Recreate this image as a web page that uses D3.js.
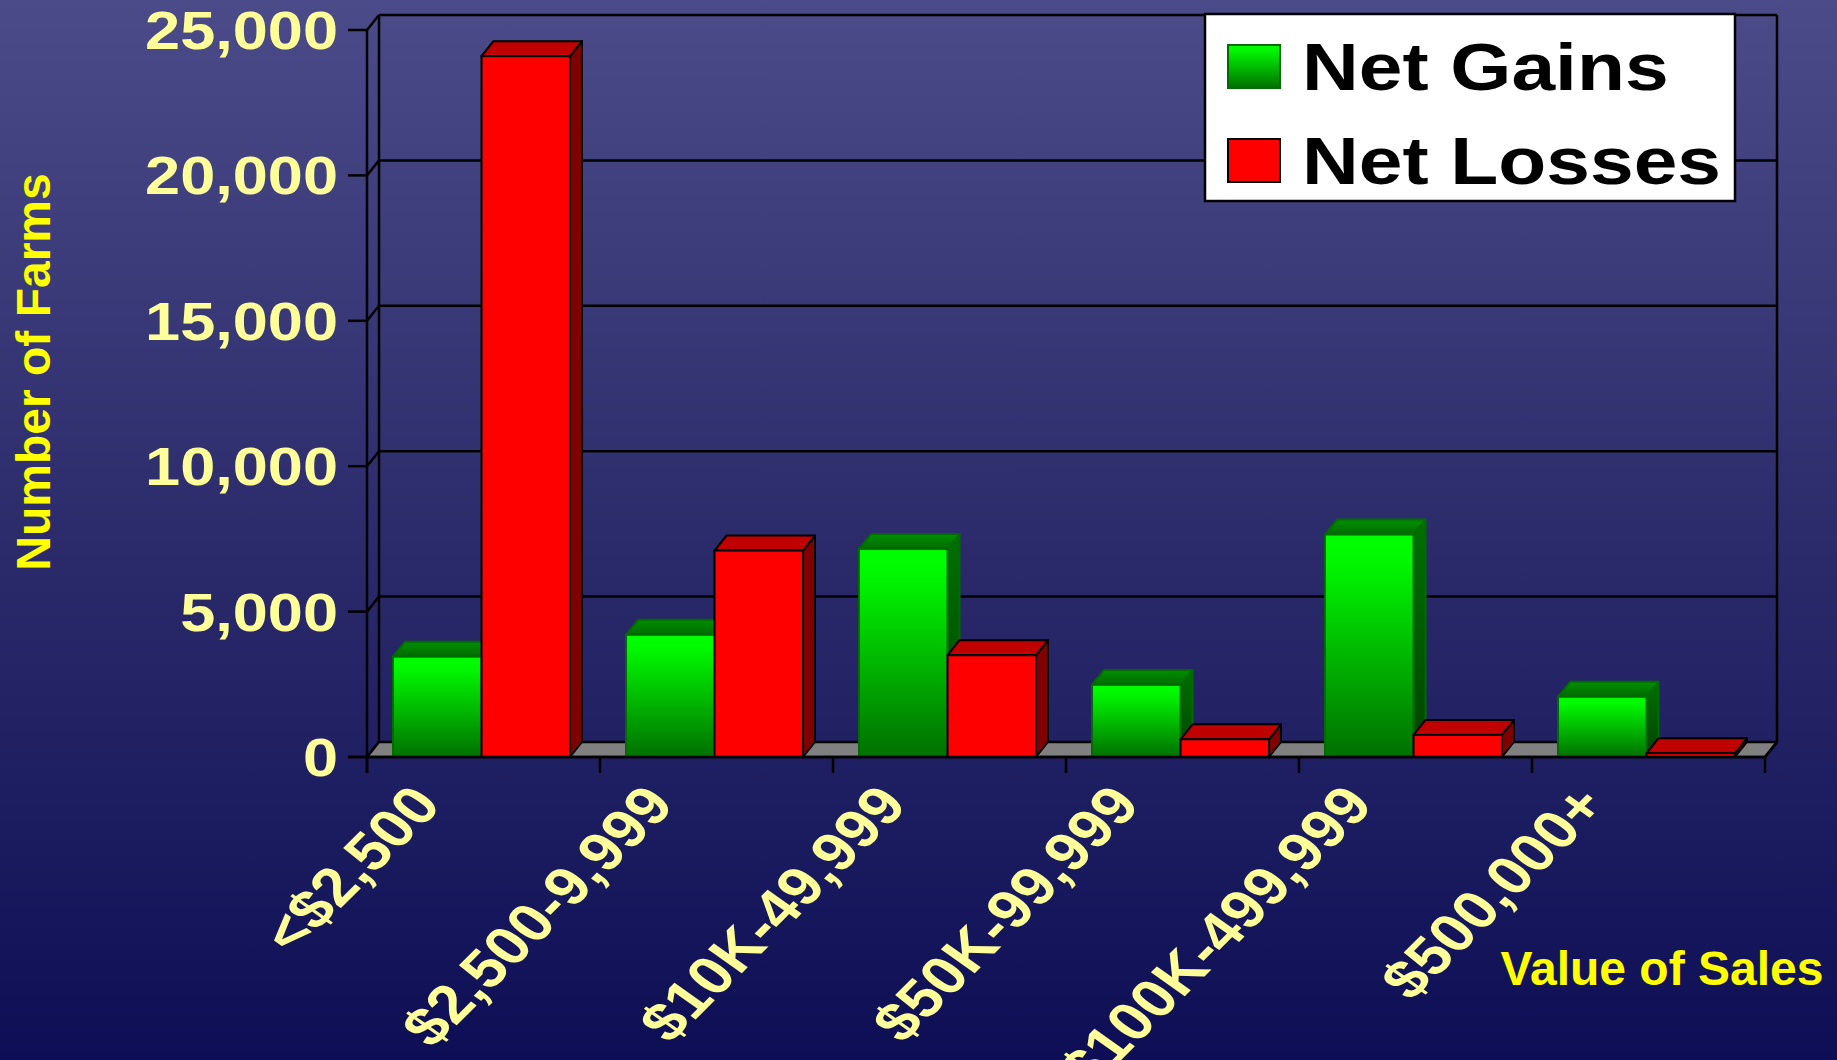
<!DOCTYPE html>
<html><head><meta charset="utf-8">
<script src="https://cdn.jsdelivr.net/npm/d3@7"></script>
<style>html,body{margin:0;padding:0;overflow:hidden;background:#0e0e56}</style>
</head><body><svg id="c" width="1837" height="1060"></svg>
<script>
const categories = ["<$2,500", "$2,500-9,999", "$10K-49,999", "$50K-99,999", "$100K-499,999", "$500,000+"];
const netGains = [3450, 4200, 7150, 2480, 7650, 2070];
const netLosses = [24100, 7100, 3500, 610, 760, 130];
const seriesNames = ["Net Gains", "Net Losses"];
const yTicks = [0, 5000, 10000, 15000, 20000, 25000];
const yTitle = "Number of Farms";
const xTitle = "Value of Sales";

const W = 1837, H = 1060;
const FONT = "'Liberation Sans', Arial, Helvetica, sans-serif";
const SX = 1.19; // horizontal stretch of the original slide text
const svg = d3.select("#c");
const defs = svg.append("defs");

function vgrad(id, stops) {
  const g = defs.append("linearGradient").attr("id", id)
    .attr("x1", 0).attr("y1", 0).attr("x2", 0).attr("y2", 1);
  stops.forEach(s => g.append("stop").attr("offset", s[0]).attr("stop-color", s[1]));
}
vgrad("bg", [[0, "#4b4b89"], [0.5, "#2c2c6c"], [1, "#0e0e56"]]);
vgrad("gFront", [[0, "#00ff00"], [0.12, "#00f800"], [1, "#007000"]]);
vgrad("gSide", [[0, "#007000"], [1, "#004400"]]);
vgrad("gTop", [[0, "#009000"], [1, "#006a00"]]);

svg.append("rect").attr("width", W).attr("height", H).attr("fill", "url(#bg)");

const x0 = 367, x1 = 1765, yZero = 757, yTop = 30;
const DX = 12, DY = -15;
const x = d3.scaleBand().domain(categories).range([x0, x1]);
const y = d3.scaleLinear().domain([0, 25000]).range([yZero, yTop]);
const xs = d3.scaleBand().domain(seriesNames).range([26, 26 + 177]);
const color = {
  "Net Gains": {front: "url(#gFront)", top: "url(#gTop)", side: "url(#gSide)", stroke: "#006c00"},
  "Net Losses": {front: "#ff0000", top: "#c00000", side: "#800000", stroke: "#000000"}
};
const lw = 2.5;

// back wall gridlines
const g = svg.append("g");
yTicks.filter(t => t > 0).forEach(t => {
  g.append("line").attr("x1", x0 + DX).attr("x2", x1 + DX)
    .attr("y1", y(t) + DY).attr("y2", y(t) + DY).attr("stroke", "#000").attr("stroke-width", lw);
});
// side wall diagonals + ticks
yTicks.forEach(t => {
  g.append("line").attr("x1", x0).attr("y1", y(t)).attr("x2", x0 + DX).attr("y2", y(t) + DY)
    .attr("stroke", "#000").attr("stroke-width", lw);
  g.append("line").attr("x1", x0 - 19).attr("y1", y(t)).attr("x2", x0).attr("y2", y(t))
    .attr("stroke", "#000").attr("stroke-width", lw);
});
// back wall verticals
[x0 + DX, x1 + DX].forEach(xx => {
  g.append("line").attr("x1", xx).attr("x2", xx).attr("y1", y(25000) + DY).attr("y2", yZero + DY)
    .attr("stroke", "#000").attr("stroke-width", lw);
});
// floor
g.append("polygon")
  .attr("points", [[x0, yZero], [x0 + DX, yZero + DY], [x1 + DX, yZero + DY], [x1, yZero]].map(p => p.join(",")).join(" "))
  .attr("fill", "#808080").attr("stroke", "#000").attr("stroke-width", lw).attr("stroke-linejoin", "round");
// front y axis
g.append("line").attr("x1", x0).attr("x2", x0).attr("y1", yTop).attr("y2", yZero + 16)
  .attr("stroke", "#000").attr("stroke-width", lw);

// bars
const bars = svg.append("g");
categories.forEach((c, i) => {
  const vals = {"Net Gains": netGains[i], "Net Losses": netLosses[i]};
  seriesNames.forEach(s => {
    const bx = x(c) + xs(s), bw = xs.bandwidth(), by = y(vals[s]);
    const col = color[s];
    const sw = 2;
    bars.append("polygon")
      .attr("points", [[bx + bw, by], [bx + bw + DX, by + DY], [bx + bw + DX, yZero + DY], [bx + bw, yZero]].map(p => p.join(",")).join(" "))
      .attr("fill", col.side).attr("stroke", col.stroke).attr("stroke-width", sw).attr("stroke-linejoin", "round");
    bars.append("polygon")
      .attr("points", [[bx, by], [bx + DX, by + DY], [bx + bw + DX, by + DY], [bx + bw, by]].map(p => p.join(",")).join(" "))
      .attr("fill", col.top).attr("stroke", col.stroke).attr("stroke-width", sw).attr("stroke-linejoin", "round");
    bars.append("rect").attr("x", bx).attr("y", by).attr("width", bw).attr("height", yZero - by)
      .attr("fill", col.front).attr("stroke", col.stroke).attr("stroke-width", sw);
  });
});

// front floor edge + category ticks
const fa = svg.append("g");
fa.append("line").attr("x1", x0 - 19).attr("x2", x1).attr("y1", yZero).attr("y2", yZero)
  .attr("stroke", "#000").attr("stroke-width", lw);
fa.append("line").attr("x1", x1).attr("y1", yZero).attr("x2", x1 + DX).attr("y2", yZero + DY)
  .attr("stroke", "#000").attr("stroke-width", lw);
const tickXs = categories.map(c => x(c)).concat([x1]);
tickXs.forEach(tx => {
  fa.append("line").attr("x1", tx).attr("x2", tx).attr("y1", yZero).attr("y2", yZero + 16)
    .attr("stroke", "#000").attr("stroke-width", lw);
});

// y tick labels
const fmt = d3.format(",");
yTicks.forEach(t => {
  svg.append("text").attr("transform", `translate(338,${y(t)}) scale(${SX},1)`)
    .attr("dy", "0.36em").attr("text-anchor", "end")
    .attr("font-family", FONT).attr("font-weight", "bold").attr("font-size", 53)
    .attr("fill", "#ffff99").text(fmt(t));
});

// category labels
const theta = Math.atan(SX) * 180 / Math.PI;
categories.forEach(c => {
  const ax = x(c) + 76, ay = 806;
  svg.append("text").attr("transform", `translate(${ax},${ay}) scale(${SX},1) rotate(${-theta})`)
    .attr("text-anchor", "end")
    .attr("font-family", FONT).attr("font-weight", "bold").attr("font-size", 54)
    .attr("fill", "#ffff99").text(c);
});

// axis titles
svg.append("text").attr("transform", "translate(50,372) rotate(-90)")
  .attr("text-anchor", "middle").attr("font-family", FONT).attr("font-weight", "bold")
  .attr("font-size", 48).attr("fill", "#ffff00").text(yTitle);
svg.append("text").attr("x", 1662).attr("y", 985)
  .attr("text-anchor", "middle").attr("font-family", FONT).attr("font-weight", "bold")
  .attr("font-size", 48).attr("fill", "#ffff00").text(xTitle);

// legend
const lg = svg.append("g");
lg.append("rect").attr("x", 1205).attr("y", 14).attr("width", 530).attr("height", 187)
  .attr("fill", "#fff").attr("stroke", "#000").attr("stroke-width", 2.5);
seriesNames.forEach((s, i) => {
  const yy = 45 + i * 94;
  lg.append("rect").attr("x", 1228).attr("y", yy).attr("width", 52).attr("height", 43)
    .attr("fill", color[s].front).attr("stroke", color[s].stroke).attr("stroke-width", 2);
  lg.append("text").attr("transform", `translate(1302,${yy + 45}) scale(${SX},1)`)
    .attr("font-family", FONT).attr("font-weight", "bold").attr("font-size", 66)
    .attr("fill", "#000").text(s);
});
</script></body></html>
